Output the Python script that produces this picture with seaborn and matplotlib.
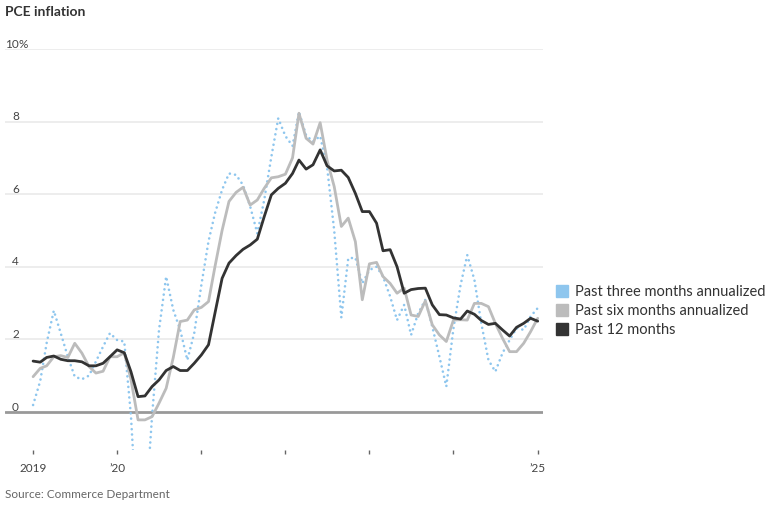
import pandas as pd
import numpy as np
import matplotlib.pyplot as plt
from matplotlib.lines import Line2D
import seaborn as sns

# Monthly readings, Jan 2019 - Jan 2025 (percent)
months = pd.date_range('2019-01-01', periods=73, freq='MS')

past_12 = [1.40, 1.37, 1.50, 1.54, 1.45, 1.41, 1.41, 1.38, 1.27, 1.27, 1.34, 1.52,
           1.71, 1.63, 1.11, 0.42, 0.44, 0.70, 0.88, 1.14, 1.25, 1.14, 1.14, 1.34,
           1.57, 1.85, 2.72, 3.68, 4.10, 4.31, 4.48, 4.60, 4.76, 5.38, 5.98, 6.16,
           6.30, 6.57, 6.94, 6.69, 6.81, 7.22, 6.78, 6.64, 6.66, 6.46, 6.02, 5.52,
           5.52, 5.20, 4.44, 4.47, 4.00, 3.27, 3.37, 3.40, 3.41, 2.95, 2.68, 2.67,
           2.59, 2.56, 2.78, 2.69, 2.52, 2.41, 2.44, 2.26, 2.09, 2.33, 2.44, 2.58,
           2.50]

past_6 = [0.97, 1.20, 1.27, 1.52, 1.55, 1.50, 1.89, 1.62, 1.25, 1.07, 1.12, 1.52,
          1.52, 1.63, 0.90, -0.22, -0.22, -0.13, 0.24, 0.65, 1.50, 2.49, 2.53, 2.81,
          2.88, 3.04, 4.00, 5.00, 5.80, 6.05, 6.19, 5.70, 5.84, 6.16, 6.45, 6.48,
          6.55, 7.00, 8.23, 7.54, 7.38, 7.97, 6.94, 6.21, 5.11, 5.34, 4.69, 3.09,
          4.08, 4.12, 3.73, 3.54, 3.27, 3.41, 2.67, 2.63, 3.06, 2.40, 2.12, 1.94,
          2.53, 2.54, 2.53, 2.99, 2.99, 2.90, 2.44, 2.03, 1.66, 1.66, 1.89, 2.21,
          2.58]

past_3 = [0.19, 0.85, 1.90, 2.79, 2.17, 1.52, 0.97, 0.90, 1.00, 1.39, 1.80, 2.17,
          1.98, 1.94, -0.10, -3.50, -3.00, -0.10, 2.26, 3.73, 2.81, 2.26, 1.43, 2.17,
          3.50, 4.70, 5.47, 6.12, 6.57, 6.53, 6.25, 5.66, 4.92, 5.84, 7.03, 8.09,
          7.60, 7.33, 8.27, 7.62, 7.45, 7.60, 6.75, 5.00, 2.60, 4.23, 4.25, 3.54,
          3.91, 4.00, 3.73, 3.18, 2.53, 2.95, 2.12, 2.72, 3.09, 2.35, 1.52, 0.70,
          2.30, 3.50, 4.32, 3.64, 2.44, 1.43, 1.11, 1.62, 1.98, 2.31, 2.26, 2.63,
          2.86]

series_labels = ['Past three months annualized', 'Past six months annualized', 'Past 12 months']
y_ticks = [0, 2, 4, 6, 8, 10]
x_tick_dates = pd.to_datetime(['2019-01-01', '2020-01-01', '2021-01-01', '2022-01-01',
                               '2023-01-01', '2024-01-01', '2025-01-01'])
x_tick_labels = ['2019', '\u201920', '', '', '', '', '\u201925']

BLUE = '#8ec6ee'
GRAY = '#bcbcbc'
BLACK = '#333333'

sns.set_theme(style='white')
plt.rcParams['font.family'] = ['Lato', 'DejaVu Sans']

fig = plt.figure(figsize=(7.73, 5.05), dpi=100)
ax = fig.add_axes([5 / 773, 55 / 505, 538 / 773, 401 / 505])

df = pd.DataFrame({'date': months, 'p3': past_3, 'p6': past_6, 'p12': past_12})

# dotted line made of round dots
sns.lineplot(data=df, x='date', y='p3', ax=ax, color=BLUE, linewidth=1.9,
             linestyle=(0, (0.01, 2.0)), dash_capstyle='round')
sns.lineplot(data=df, x='date', y='p6', ax=ax, color=GRAY, linewidth=2.0)
sns.lineplot(data=df, x='date', y='p12', ax=ax, color=BLACK, linewidth=2.0)

ax.set_xlim(pd.Timestamp('2018-09-01'), pd.Timestamp('2025-01-24'))
ax.set_ylim(-1.05, 10)

# gridlines and zero line
for v in y_ticks[1:]:
    ax.axhline(v, color='#ececec', linewidth=1.3, zorder=0)
ax.axhline(0, color='#999999', linewidth=2, zorder=1)

ax.set_yticks([])
ax.set_xticks(x_tick_dates)
ax.set_xticklabels(x_tick_labels)
ax.tick_params(axis='x', length=3, width=1, color='#666666', pad=6,
               labelsize=8.5, labelcolor='#444444', bottom=True)
ax.set_xlabel('')
ax.set_ylabel('')
for s in ax.spines.values():
    s.set_visible(False)

# y labels sit above their gridlines
ytr = ax.get_yaxis_transform()
for v in y_ticks:
    ax.text(0.026, v - 0.02, str(v), transform=ytr, ha='right', va='bottom',
            fontsize=8.5, color='#444444')
ax.text(0.026, 10 - 0.02, '%', transform=ytr, ha='left', va='bottom',
        fontsize=8.5, color='#444444')

fig.text(5 / 773, 1 - 12 / 505, 'PCE inflation', ha='left', va='center',
         fontsize=10, fontweight='bold', color='#333333')
fig.text(5 / 773, 1 - 494 / 505, 'Source: Commerce Department', ha='left', va='center',
         fontsize=8.5, color='#666666')

handles = [Line2D([], [], marker='s', linestyle='', markersize=8, color=c)
           for c in [BLUE, GRAY, BLACK]]
fig.legend(handles, series_labels, loc='center left',
           bbox_to_anchor=(550 / 773, 1 - 311 / 505), frameon=False,
           handlelength=0.8, handletextpad=0.5, labelspacing=0.32,
           fontsize=10.5, labelcolor='#333333', borderaxespad=0)

fig.savefig('out.png', dpi=100)
